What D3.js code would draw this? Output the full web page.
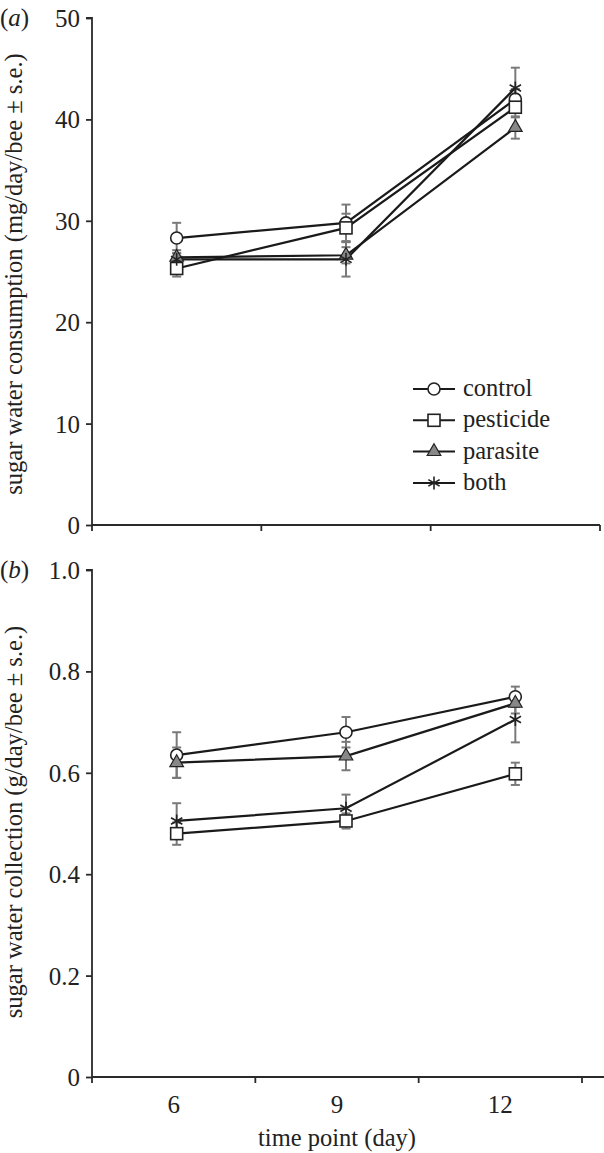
<!DOCTYPE html>
<html><head><meta charset="utf-8">
<script src="https://cdn.jsdelivr.net/npm/d3@7"></script>
<style>body{margin:0;background:#fff}svg{display:block}text{font-family:"Liberation Serif","DejaVu Serif",serif;fill:#222}</style>
</head><body>
<svg id="c" width="604" height="1153"></svg>
<script>
const days = ["6","9","12"];
const seriesNames = ["control","pesticide","parasite","both"];
// panel (a): sugar water consumption (mg/day/bee)
const consMean = {
  control:   [28.3, 29.8, 42.0],
  pesticide: [25.3, 29.3, 41.2],
  parasite:  [26.4, 26.6, 39.2],
  both:      [26.2, 26.2, 43.1]
};
const consSE = {
  control:   [1.5, 1.8, 1.0],
  pesticide: [0.8, 1.4, 1.0],
  parasite:  [0.7, 0.8, 1.1],
  both:      [0.6, 1.7, 2.0]
};
// panel (b): sugar water collection (g/day/bee)
const collMean = {
  control:   [0.635, 0.680, 0.750],
  pesticide: [0.480, 0.505, 0.598],
  parasite:  [0.620, 0.633, 0.737],
  both:      [0.505, 0.530, 0.705]
};
const collSE = {
  control:   [0.045, 0.030, 0.020],
  pesticide: [0.022, 0.015, 0.022],
  parasite:  [0.030, 0.028, 0.020],
  both:      [0.035, 0.027, 0.045]
};
const ticksA = [0,10,20,30,40,50];
const ticksB = [0,0.2,0.4,0.6,0.8,1.0];

const svg = d3.select("#c");
const x = d3.scaleBand().domain(days).range([92, 600]);
const xLabB = d3.scaleBand().domain(days).range([92, 582]);
const ink = "#222";

function marker(g, name, cx, cy) {
  if (name === "control") {
    g.append("circle").attr("cx", cx).attr("cy", cy).attr("r", 6)
      .attr("fill", "#fff").attr("stroke", ink).attr("stroke-width", 1.6);
  } else if (name === "pesticide") {
    g.append("rect").attr("x", cx - 6).attr("y", cy - 6).attr("width", 12).attr("height", 12)
      .attr("fill", "#fff").attr("stroke", ink).attr("stroke-width", 1.6);
  } else if (name === "parasite") {
    const s = d3.symbol().type(d3.symbolTriangle).size(80);
    g.append("path").attr("d", s()).attr("transform", `translate(${cx},${cy})`)
      .attr("fill", "#888").attr("stroke", ink).attr("stroke-width", 1.2);
  } else {
    const r = 6.5;
    const p = d3.path();
    p.moveTo(cx, cy - r); p.lineTo(cx, cy + r);
    p.moveTo(cx - r * 0.87, cy - r * 0.5); p.lineTo(cx + r * 0.87, cy + r * 0.5);
    p.moveTo(cx - r * 0.87, cy + r * 0.5); p.lineTo(cx + r * 0.87, cy - r * 0.5);
    g.append("path").attr("d", p.toString()).attr("fill", "none").attr("stroke", ink).attr("stroke-width", 1.6);
  }
}

function panel(opt) {
  const y = d3.scaleLinear().domain([0, opt.max]).range([opt.bottom, opt.top]);
  const g = svg.append("g");
  // y axis
  const ya = g.append("g").attr("transform", "translate(92,0)")
    .call(d3.axisLeft(y).tickValues(opt.ticks).tickSize(6).tickFormat(opt.fmt));
  ya.select(".domain").attr("stroke", "#2a2a2a").attr("stroke-width", 1.8).attr("d", `M-6,${opt.top}H0V${opt.bottom}`);
  ya.selectAll(".tick line").attr("stroke", "#2a2a2a").attr("stroke-width", 1.8);
  ya.selectAll(".tick text").attr("font-size", 25).attr("x", -12).attr("dy", "0.34em")
    .style("font-family", "Liberation Serif").attr("fill", "#222");
  // x axis
  const xs = opt.xlab;
  const edges = [xs.range()[0]].concat(days.map(d => xs(d) + xs.bandwidth()));
  const xa = g.append("g");
  xa.append("line").attr("x1", 92).attr("x2", opt.xEnd).attr("y1", opt.bottom).attr("y2", opt.bottom)
    .attr("stroke", "#2a2a2a").attr("stroke-width", 1.8);
  xa.selectAll("line.t").data(edges).join("line").attr("class", "t")
    .attr("x1", d => d).attr("x2", d => d).attr("y1", opt.bottom).attr("y2", opt.bottom + 6)
    .attr("stroke", "#2a2a2a").attr("stroke-width", 1.8);
  if (opt.labels) {
    xa.selectAll("text.xl").data(days).join("text").attr("class", "xl")
      .attr("x", d => xs(d) + xs.bandwidth() / 2).attr("y", opt.bottom + 36)
      .attr("text-anchor", "middle").attr("font-size", 25).text(d => d);
    xa.append("text").attr("x", 337).attr("y", opt.bottom + 69).attr("text-anchor", "middle")
      .attr("font-size", 24.5).text("time point (day)");
  }
  // y title
  g.append("text").attr("transform", `translate(22,${opt.titleMid}) rotate(-90)`)
    .attr("text-anchor", "middle").attr("font-size", 24.5).text(opt.title);
  // panel letter
  g.append("text").attr("x", 0).attr("y", opt.top + 8).attr("font-size", 25)
    .html('(<tspan font-style="italic">' + opt.letter + '</tspan>)');
  const cx = d => x(d) + x.bandwidth() / 2;
  // error bars
  const eg = g.append("g").attr("stroke", "#7a7a7a").attr("stroke-width", 2);
  seriesNames.forEach(n => {
    days.forEach((d, i) => {
      const m = opt.mean[n][i], s = opt.se[n][i];
      eg.append("line").attr("x1", cx(d)).attr("x2", cx(d)).attr("y1", y(m - s)).attr("y2", y(m + s));
      [m - s, m + s].forEach(v => eg.append("line").attr("x1", cx(d) - 4.5).attr("x2", cx(d) + 4.5).attr("y1", y(v)).attr("y2", y(v)));
    });
  });
  // lines
  const line = d3.line().x((v, i) => cx(days[i])).y(v => y(v));
  seriesNames.forEach(n => {
    g.append("path").attr("d", line(opt.mean[n])).attr("fill", "none").attr("stroke", "#1a1a1a").attr("stroke-width", 2.2);
  });
  // markers
  const mg = g.append("g");
  seriesNames.forEach(n => days.forEach((d, i) => marker(mg, n, cx(d), y(opt.mean[n][i]))));
  return g;
}

panel({ top: 18, bottom: 525, max: 50, ticks: ticksA, fmt: d3.format("d"), mean: consMean, se: consSE, titleMid: 274,
  title: "sugar water consumption (mg/day/bee ± s.e.)", letter: "a", xlab: x, xEnd: 600, labels: false });
panel({ top: 570, bottom: 1077, max: 1, ticks: ticksB, fmt: d => d === 0 ? "0" : d3.format(".1f")(d), mean: collMean, se: collSE, titleMid: 822,
  title: "sugar water collection (g/day/bee ± s.e.)", letter: "b", xlab: xLabB, xEnd: 604, labels: true });

// legend
const lg = svg.append("g");
seriesNames.forEach((n, i) => {
  const yy = 389 + i * 31.3;
  lg.append("line").attr("x1", 413).attr("x2", 455).attr("y1", yy).attr("y2", yy).attr("stroke", "#1a1a1a").attr("stroke-width", 2);
  marker(lg, n, 434, yy);
  lg.append("text").attr("x", 463).attr("y", yy + 7).attr("font-size", 24.5).text(n);
});
</script>
</body></html>
